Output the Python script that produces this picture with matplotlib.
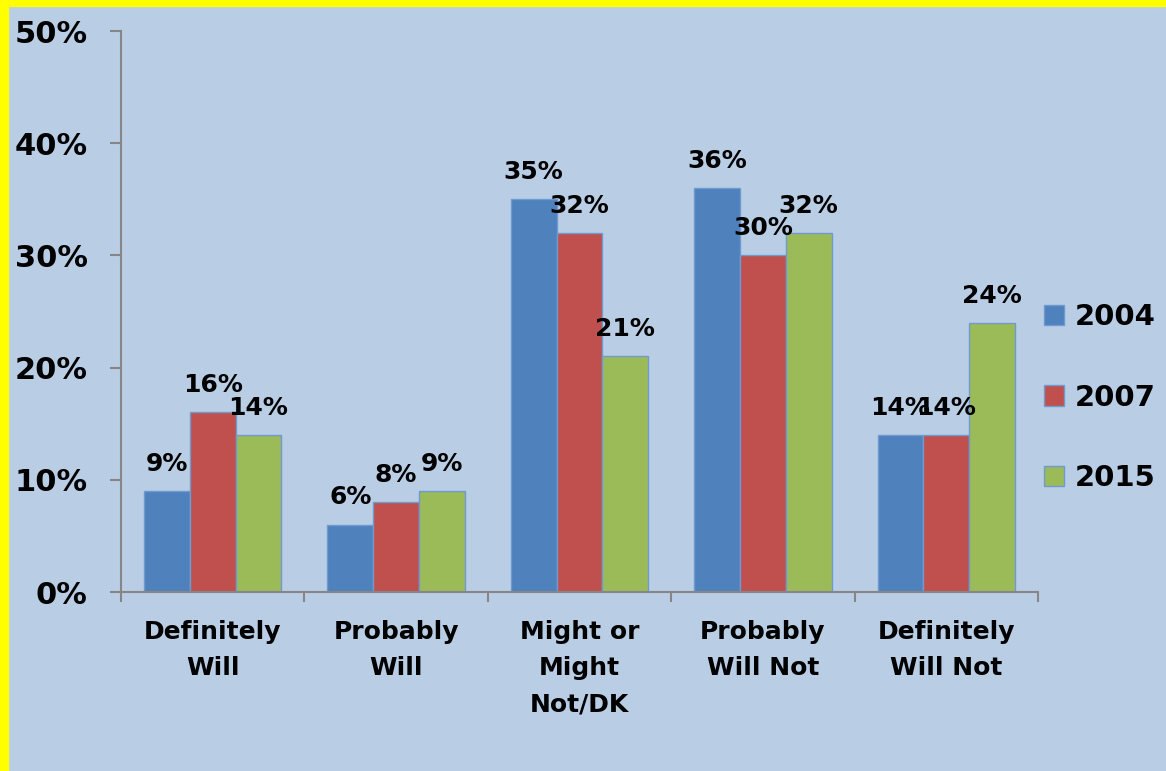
import matplotlib.pyplot as plt
import matplotlib.patches as mpatches
import numpy as np

plt.rcParams['font.family'] = ['DejaVu Sans']
plt.rcParams['font.weight'] = 'bold'

# =========================
# Data
# =========================
categories = ["Definitely\nWill", "Probably\nWill", "Might or\nMight\nNot/DK",
              "Probably\nWill Not", "Definitely\nWill Not"]
years = ["2004", "2007", "2015"]
v2004 = [9, 6, 35, 36, 14]
v2007 = [16, 8, 32, 30, 14]
v2015 = [14, 9, 21, 32, 24]
series = [v2004, v2007, v2015]
colors = ["#4F81BD", "#C0504D", "#9BBB59"]

bg = "#B9CDE5"
axis_gray = "#868686"

fig = plt.figure(figsize=(11.66, 7.71), dpi=100)
fig.patch.set_facecolor(bg)

# yellow frame on the left and top
fig.patches.append(mpatches.Rectangle((0, 0), 8 / 1166, 1, transform=fig.transFigure,
                                      color="#FFFF00", zorder=10))
fig.patches.append(mpatches.Rectangle((0, 1 - 6 / 771), 1, 6 / 771, transform=fig.transFigure,
                                      color="#FFFF00", zorder=10))

ax = fig.add_axes([121 / 1166, 1 - 592 / 771, (1038 - 121) / 1166, (592 - 31) / 771])
ax.set_facecolor(bg)

x = np.arange(len(categories))
w = 0.25
for k, (vals, c, yr) in enumerate(zip(series, colors, years)):
    pos = x + (k - 1) * w
    ax.bar(pos, vals, width=w, color=c, edgecolor="#6F9AD0", linewidth=1, label=yr, zorder=2)
    for px, v in zip(pos, vals):
        ax.text(px, v + 1.8, f"{v}%", ha="center", va="baseline", fontsize=18,
                fontweight="bold", zorder=3)

ax.set_xlim(-0.5, len(categories) - 0.5)
ax.set_ylim(0, 50)
ax.set_yticks(range(0, 51, 10))
ax.set_yticklabels([f"{t}%" for t in range(0, 51, 10)], fontsize=22, fontweight="bold")
ax.tick_params(axis="y", direction="out", length=8, width=1.5, color=axis_gray, pad=16)

ax.set_xticks(x)
ax.set_xticklabels(categories, fontsize=18, fontweight="bold", linespacing=1.65)
ax.tick_params(axis="x", which="major", length=0, pad=20)
ax.set_xticks(np.arange(-0.5, len(categories), 1.0), minor=True)
ax.tick_params(axis="x", which="minor", direction="out", length=7, width=1.5, color=axis_gray)

for s in ["top", "right"]:
    ax.spines[s].set_visible(False)
for s in ["left", "bottom"]:
    ax.spines[s].set_color(axis_gray)
    ax.spines[s].set_linewidth(1.5)

handles = [mpatches.Patch(facecolor=c, edgecolor="#6F9AD0", linewidth=1) for c in colors]
leg = ax.legend(handles, years, loc="center left", bbox_to_anchor=(1.0, 0.346),
                frameon=False, fontsize=21, handlelength=0.7, handleheight=0.7,
                handletextpad=0.35, labelspacing=1.8, borderpad=0, borderaxespad=0.2)
for t in leg.get_texts():
    t.set_fontweight("bold")

fig.savefig("out.png", dpi=100, facecolor=bg)
